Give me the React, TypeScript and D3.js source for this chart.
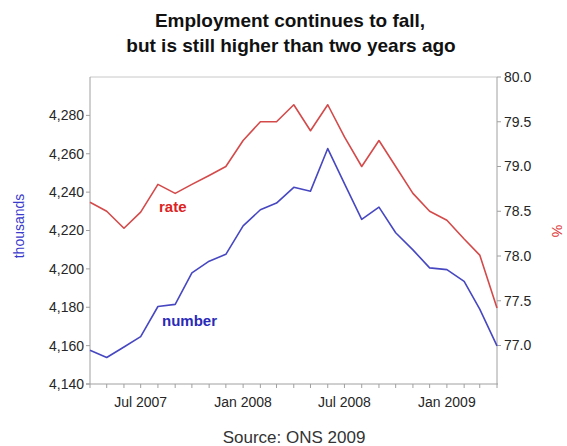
import React from "react";
import * as d3 from "d3";

const months: string[] = [
  "2007-04", "2007-05", "2007-06", "2007-07", "2007-08", "2007-09", "2007-10", "2007-11", "2007-12",
  "2008-01", "2008-02", "2008-03", "2008-04", "2008-05", "2008-06", "2008-07", "2008-08", "2008-09",
  "2008-10", "2008-11", "2008-12", "2009-01", "2009-02", "2009-03", "2009-04",
];
const numberThousands: number[] = [
  4157.6, 4153.8, 4159.3, 4164.7, 4180.4, 4181.5, 4197.9, 4204.0, 4207.6,
  4222.4, 4230.8, 4234.3, 4242.5, 4240.5, 4262.7, 4244.4, 4225.8, 4232.2,
  4218.8, 4209.9, 4200.5, 4199.6, 4193.5, 4179.0, 4159.9,
];
const ratePct: number[] = [
  78.6, 78.5, 78.31, 78.49, 78.8, 78.7, 78.8, 78.9, 79.0,
  79.29, 79.5, 79.5, 79.69, 79.4, 79.69, 79.33, 79.0, 79.29,
  79.0, 78.7, 78.5, 78.4, 78.19, 78.01, 77.42,
];
const leftTicks: number[] = [4140, 4160, 4180, 4200, 4220, 4240, 4260, 4280];
const rightTicks: number[] = [77.0, 77.5, 78.0, 78.5, 79.0, 79.5, 80.0];
const xLabelMonths: string[] = ["2007-07", "2008-01", "2008-07", "2009-01"];

const parse = d3.timeParse("%Y-%m");
const fmtX = d3.timeFormat("%b %Y");
const fmtL = d3.format(",");
const fmtR = d3.format(".1f");

const W = 567, H = 446;
const L = 90, R = 497, T = 77, B = 384;

export default function App() {
  const dates = months.map((m) => parse(m) as Date);
  const x = d3.scaleTime().domain([dates[0], dates[dates.length - 1]]).range([L, R]);
  const yL = d3.scaleLinear().domain([4140, 4300]).range([B, T]);
  const yR = d3.scaleLinear().domain([76.57, 80.0]).range([B, T]);

  const lineN = d3.line<number>().x((_, i) => x(dates[i])).y((d) => yL(d));
  const lineR = d3.line<number>().x((_, i) => x(dates[i])).y((d) => yR(d));

  const monthTicks = d3.timeMonth.range(dates[0], d3.timeMonth.offset(dates[dates.length - 1], 1));
  const font = "Liberation Sans, Arial, sans-serif";
  const axisCol = "#a0a0a0";
  const textCol = "#262626";

  return (
    <svg width={W} height={H} style={{ position: "absolute", left: 0, top: 0, background: "#fff" }} fontFamily={font}>
      <text x={290} y={27} textAnchor="middle" fontSize={19} fontWeight="bold" fill="#111">
        Employment continues to fall,
      </text>
      <text x={291} y={52} textAnchor="middle" fontSize={19} fontWeight="bold" fill="#111">
        but is still higher than two years ago
      </text>

      {/* frame */}
      <line x1={L} x2={R} y1={T} y2={T} stroke="#c8c8c8" strokeWidth={1} />
      <line x1={L} x2={L} y1={T} y2={B} stroke={axisCol} strokeWidth={1} />
      <line x1={R} x2={R} y1={T} y2={B} stroke={axisCol} strokeWidth={1} />
      <line x1={L - 4} x2={R + 1} y1={B} y2={B} stroke={axisCol} strokeWidth={1} />

      {/* left axis */}
      {leftTicks.map((v) => (
        <g key={"l" + v}>
          <line x1={L - 4} x2={L} y1={yL(v)} y2={yL(v)} stroke={axisCol} />
          <text x={L - 6} y={yL(v)} dy="0.35em" textAnchor="end" fontSize={14} fill={textCol}>
            {fmtL(v)}
          </text>
        </g>
      ))}
      {/* right axis */}
      {rightTicks.map((v) => (
        <g key={"r" + v}>
          <line x1={R} x2={R + 4} y1={yR(v)} y2={yR(v)} stroke={axisCol} />
          <text x={R + 7} y={yR(v)} dy="0.35em" textAnchor="start" fontSize={14} fill={textCol}>
            {fmtR(v)}
          </text>
        </g>
      ))}
      {/* bottom axis */}
      {monthTicks.map((d, i) => (
        <line key={"b" + i} x1={x(d)} x2={x(d)} y1={B} y2={B + 4} stroke={axisCol} />
      ))}
      {xLabelMonths.map((m) => {
        const d = parse(m) as Date;
        return (
          <text key={"x" + m} x={x(d)} y={407} textAnchor="middle" fontSize={14} fill={textCol}>
            {fmtX(d)}
          </text>
        );
      })}

      {/* lines */}
      <path d={lineR(ratePct) || ""} fill="none" stroke="#d44a4a" strokeWidth={1.6} strokeLinejoin="round" />
      <path d={lineN(numberThousands) || ""} fill="none" stroke="#4747c2" strokeWidth={1.6} strokeLinejoin="round" />

      {/* series labels */}
      <text x={159} y={212} fontSize={15} fontWeight="bold" fill="#dd2222">rate</text>
      <text x={162} y={326} fontSize={15} fontWeight="bold" fill="#2a2ab8">number</text>

      {/* axis titles */}
      <text transform="translate(24,226) rotate(-90)" textAnchor="middle" fontSize={14} fill="#3a3acc">
        thousands
      </text>
      <text transform="translate(552,231) rotate(90)" textAnchor="middle" fontSize={14} fill="#dd3333">
        %
      </text>

      <text x={294} y={443} textAnchor="middle" fontSize={17} fill="#333">
        Source: ONS 2009
      </text>
    </svg>
  );
}
